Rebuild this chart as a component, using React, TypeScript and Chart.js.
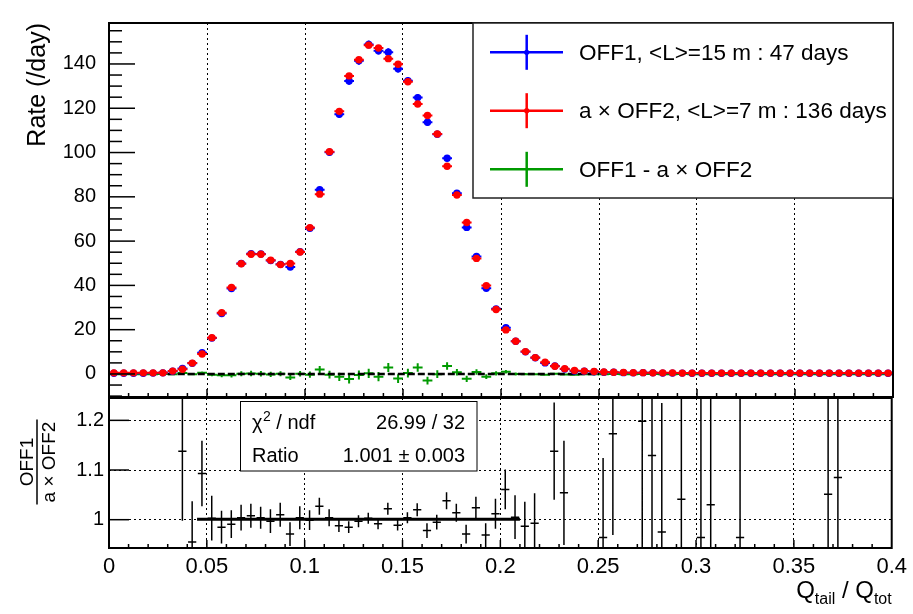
import React, { useEffect, useRef } from "react";
import { Chart, registerables } from "chart.js";
Chart.register(...registerables);

const FONT = "'Liberation Sans', Arial, Helvetica, sans-serif";
Chart.defaults.font.family = FONT;

// ---------------- data ----------------
const BIN_WIDTH = 0.005;
const N_BINS = 80;
const binCenters = Array.from({ length: N_BINS }, (_, i) => +(BIN_WIDTH * (i + 0.5)).toFixed(4));

// OFF1, <L>=15 m : 47 days  (rate per day)
const off1Rate = [
  0.3, 0.3, 0.3, 0.3, 0.4, 0.5, 1.2, 2.5, 4.8, 9.6,
  16.2, 27.3, 38.6, 49.9, 54.3, 54.2, 51.2, 49.5, 48.3, 55.2,
  65.8, 83.2, 100.1, 117.3, 132.3, 141.4, 148.8, 146.0, 145.3, 137.8,
  132.4, 124.8, 113.7, 108.3, 97.4, 81.6, 66.2, 53.1, 38.7, 29.4,
  20.9, 14.8, 10.0, 7.3, 5.0, 3.6, 2.2, 1.3, 1.2, 1.0,
  0.8, 0.8, 0.6, 0.5, 0.6, 0.5, 0.4, 0.4, 0.4, 0.3,
  0.3, 0.3, 0.3, 0.3, 0.3, 0.3, 0.3, 0.3, 0.3, 0.3,
  0.3, 0.3, 0.3, 0.3, 0.3, 0.3, 0.3, 0.3, 0.3, 0.3,
];
const off1Err = [
  0.1, 0.1, 0.1, 0.1, 0.1, 0.1, 0.15, 0.2, 0.3, 0.45,
  0.6, 0.75, 0.9, 1.0, 1.1, 1.1, 1.05, 1.0, 1.0, 1.1,
  1.2, 1.35, 1.45, 1.6, 1.7, 1.75, 1.8, 1.75, 1.75, 1.7,
  1.7, 1.65, 1.55, 1.5, 1.45, 1.3, 1.2, 1.05, 0.9, 0.8,
  0.65, 0.55, 0.45, 0.4, 0.3, 0.3, 0.2, 0.15, 0.15, 0.15,
  0.1, 0.1, 0.1, 0.1, 0.1, 0.1, 0.1, 0.1, 0.1, 0.1,
  0.1, 0.1, 0.1, 0.1, 0.1, 0.1, 0.1, 0.1, 0.1, 0.1,
  0.1, 0.1, 0.1, 0.1, 0.1, 0.1, 0.1, 0.1, 0.1, 0.1,
];

// a x OFF2, <L>=7 m : 136 days
const off2Rate = [
  0.5, 0.5, 0.5, 0.5, 0.5, 0.5, 1.3, 2.1, 4.9, 9.0,
  16.4, 27.7, 39.1, 49.8, 54.1, 54.1, 51.4, 49.4, 49.9, 55.1,
  66.1, 81.2, 100.4, 118.6, 134.6, 141.9, 148.5, 147.2, 142.4, 139.9,
  132.0, 121.9, 116.7, 108.4, 93.8, 80.8, 68.4, 52.2, 39.9, 29.1,
  19.9, 14.8, 10.1, 7.4, 5.3, 3.5, 2.4, 1.6, 1.3, 1.1,
  0.9, 0.8, 0.7, 0.6, 0.6, 0.5, 0.5, 0.5, 0.4, 0.4,
  0.4, 0.4, 0.4, 0.4, 0.4, 0.4, 0.4, 0.4, 0.4, 0.4,
  0.4, 0.4, 0.4, 0.4, 0.4, 0.4, 0.4, 0.4, 0.4, 0.4,
];
const off2Err = [
  0.05, 0.05, 0.05, 0.05, 0.05, 0.05, 0.1, 0.12, 0.18, 0.27,
  0.36, 0.45, 0.55, 0.6, 0.65, 0.65, 0.63, 0.6, 0.6, 0.65,
  0.72, 0.8, 0.87, 0.95, 1.0, 1.05, 1.08, 1.05, 1.05, 1.02,
  1.0, 0.98, 0.95, 0.9, 0.85, 0.8, 0.72, 0.63, 0.55, 0.48,
  0.4, 0.33, 0.28, 0.24, 0.2, 0.17, 0.14, 0.1, 0.1, 0.1,
  0.06, 0.06, 0.06, 0.06, 0.06, 0.06, 0.06, 0.06, 0.06, 0.06,
  0.06, 0.06, 0.06, 0.06, 0.06, 0.06, 0.06, 0.06, 0.06, 0.06,
  0.06, 0.06, 0.06, 0.06, 0.06, 0.06, 0.06, 0.06, 0.06, 0.06,
];

// OFF1 - a x OFF2
const diffRate = [
  -0.1, -0.1, -0.1, -0.1, -0.1, 0.0, -0.1, 0.4, -0.1, 0.6,
  -0.3, -0.6, -0.6, 0.1, 0.2, 0.1, -0.2, 0.1, -1.6, 0.1,
  -0.3, 2.0, -0.3, -1.3, -2.3, -0.5, 0.3, -1.2, 2.9, -2.1,
  0.4, 2.9, -3.0, -0.1, 3.6, 0.8, -2.2, 0.9, -1.2, 0.3,
  1.0, 0.0, -0.1, -0.1, -0.3, 0.1, -0.2, -0.3, -0.1, -0.1,
  -0.1, 0.0, -0.1, -0.1, 0.0, 0.0, -0.1, -0.1, 0.0, -0.1,
  -0.1, -0.1, -0.1, -0.1, -0.1, -0.1, -0.1, -0.1, -0.1, -0.1,
  -0.1, -0.1, -0.1, -0.1, -0.1, -0.1, -0.1, -0.1, -0.1, -0.1,
];
const diffErr = [
  0.12, 0.12, 0.12, 0.12, 0.12, 0.12, 0.18, 0.25, 0.35, 0.5,
  0.7, 0.9, 1.05, 1.15, 1.25, 1.25, 1.2, 1.15, 1.15, 1.25,
  1.4, 1.55, 1.7, 1.85, 2.0, 2.05, 2.1, 2.05, 2.05, 2.0,
  2.0, 1.9, 1.8, 1.75, 1.7, 1.5, 1.4, 1.2, 1.05, 0.95,
  0.75, 0.65, 0.5, 0.45, 0.35, 0.35, 0.25, 0.2, 0.2, 0.2,
  0.12, 0.12, 0.12, 0.12, 0.12, 0.12, 0.12, 0.12, 0.12, 0.12,
  0.12, 0.12, 0.12, 0.12, 0.12, 0.12, 0.12, 0.12, 0.12, 0.12,
  0.12, 0.12, 0.12, 0.12, 0.12, 0.12, 0.12, 0.12, 0.12, 0.12,
];

// OFF1 / (a x OFF2)
const ratioVal: (number | null)[] = [
  null, null, null, null, null, null, null, 1.138, 0.955, 1.093,
  1.003, 0.985, 0.991, 1.004, 1.008, 1.004, 0.997, 1.010, 0.971, 1.004,
  0.999, 1.027, 1.004, 0.988, 0.985, 0.997, 1.003, 0.992, 1.022, 0.989,
  1.004, 1.020, 0.978, 0.995, 1.038, 1.014, 0.971, 1.024, 0.969, 1.012,
  1.061, 1.005, 0.987, 0.993, null, 1.138, 1.054, null, null, null,
  0.964, 1.173, null, null, 1.198, 1.129, 0.975, null, 1.041, null,
  0.964, 1.030, null, null, 0.964, null, null, null, null, null,
  null, null, null, 1.051, 1.085, null, null, null, null, null,
];
const ratioErr = [
  0, 0, 0, 0, 0, 0, 0, 0.14, 0.082, 0.066,
  0.045, 0.033, 0.028, 0.026, 0.024, 0.022, 0.024, 0.024, 0.024, 0.023,
  0.02, 0.017, 0.017, 0.013, 0.012, 0.012, 0.011, 0.011, 0.012, 0.011,
  0.011, 0.013, 0.015, 0.015, 0.017, 0.018, 0.019, 0.022, 0.024, 0.03,
  0.04, 0.044, 0.049, 0.06, 0, 0.098, 0.105, 0, 0, 0,
  0.16, 0.204, 0, 0, 0.5, 0.5, 0.26, 0, 0.5, 0,
  0.5, 0.5, 0, 0, 0.5, 0, 0, 0, 0, 0,
  0, 0, 0, 0.5, 0.5, 0, 0, 0, 0, 0,
];

const fitRange = [0.045, 0.21];
const fitValue = 1.001;
const zeroLineRange = [0.03, 0.25];

const xTickValues = [0, 0.05, 0.1, 0.15, 0.2, 0.25, 0.3, 0.35, 0.4];
const xTickLabels = ["0", "0.05", "0.1", "0.15", "0.2", "0.25", "0.3", "0.35", "0.4"];
const xGridValues = [0.05, 0.1, 0.15, 0.2, 0.25, 0.3, 0.35];
const rateTickValues = [0, 20, 40, 60, 80, 100, 120, 140];
const ratioTickValues = [1, 1.1, 1.2];
const ratioTickLabels = ["1", "1.1", "1.2"];

const legendLabels = [
  "OFF1, <L>=15 m : 47 days",
  "a \u00d7 OFF2, <L>=7 m : 136 days",
  "OFF1 - a \u00d7 OFF2",
];
const statsLabels = ["Ratio"];
const statsValues = ["26.99 / 32", "1.001 \u00b1 0.003"];

const BLUE = "#0000ff";
const RED = "#ff0000";
const GREEN = "#009a00";

// ---------------- helpers ----------------
type P = { x: number; y: number | null };
function barSegments(xs: number[], ys: (number | null)[], errs: number[], halfW: number): P[] {
  const out: P[] = [];
  for (let i = 0; i < xs.length; i++) {
    const y = ys[i];
    if (y === null || y === undefined) continue;
    out.push({ x: xs[i] - halfW, y }, { x: xs[i] + halfW, y }, { x: xs[i], y: null });
    out.push({ x: xs[i], y: y - errs[i] }, { x: xs[i], y: y + errs[i] }, { x: xs[i], y: null });
  }
  return out;
}
function markers(xs: number[], ys: (number | null)[]): P[] {
  return xs.map((x, i) => ({ x, y: ys[i] }));
}
function seg(ctx: CanvasRenderingContext2D, x1: number, y1: number, x2: number, y2: number) {
  ctx.beginPath();
  ctx.moveTo(x1, y1);
  ctx.lineTo(x2, y2);
  ctx.stroke();
}

const lineDs = (data: P[], color: string, width: number, order: number, extra: any = {}) => ({
  type: "scatter" as const,
  data,
  showLine: true,
  borderColor: color,
  borderWidth: width,
  pointRadius: 0,
  spanGaps: false,
  order,
  ...extra,
});
const markerDs = (data: P[], color: string, order: number) => ({
  type: "scatter" as const,
  data,
  showLine: false,
  pointRadius: 3.7,
  pointStyle: "circle",
  pointBackgroundColor: color,
  pointBorderWidth: 0,
  order,
});

// ---------------- plugins ----------------
const topDecor = {
  id: "topDecor",
  afterDatasetsDraw(chart: any) {
    const { ctx, chartArea: a } = chart;
    const xs = chart.scales.x;
    const ys = chart.scales.y;
    ctx.save();
    ctx.strokeStyle = "#000";
    ctx.lineWidth = 1.5;
    for (let k = -2; k <= 31; k++) {
      const v = k * 5;
      const py = ys.getPixelForValue(v);
      if (py < a.top || py > a.bottom) continue;
      seg(ctx, a.left, py, a.left + (v % 20 === 0 ? 26 : 13), py);
    }
    for (let k = 1; k < 40; k++) {
      const px = xs.getPixelForValue(k * 0.01);
      seg(ctx, px, a.bottom, px, a.bottom - (k % 5 === 0 ? 8 : 4));
    }
    ctx.lineWidth = 2;
    ctx.strokeRect(a.left, a.top, a.right - a.left, a.bottom - a.top);

    // legend
    const L = { x1: 473, y1: a.top, x2: a.right, y2: 198 };
    ctx.fillStyle = "#fff";
    ctx.fillRect(L.x1, L.y1, L.x2 - L.x1, L.y2 - L.y1);
    ctx.lineWidth = 1.5;
    ctx.strokeStyle = "#222";
    ctx.strokeRect(L.x1, L.y1, L.x2 - L.x1, L.y2 - L.y1);
    const colors = [BLUE, RED, GREEN];
    const rows = [52.3, 110.7, 169.3];
    ctx.font = `22.5px ${FONT}`;
    ctx.textBaseline = "middle";
    ctx.textAlign = "left";
    rows.forEach((cy, i) => {
      ctx.strokeStyle = colors[i];
      ctx.lineWidth = 2.5;
      seg(ctx, 490, cy, 563, cy);
      seg(ctx, 526.7, cy - 17.5, 526.7, cy + 17.5);
      if (i < 2) {
        ctx.fillStyle = colors[i];
        ctx.beginPath();
        ctx.arc(526.7, cy, 2.6, 0, Math.PI * 2);
        ctx.fill();
      }
      ctx.fillStyle = "#000";
      ctx.fillText(legendLabels[i], 579, cy + 1);
    });
    ctx.restore();
  },
};

const botDecor = {
  id: "botDecor",
  afterDatasetsDraw(chart: any) {
    const { ctx, chartArea: a } = chart;
    const xs = chart.scales.x;
    const ys = chart.scales.y;
    ctx.save();
    ctx.strokeStyle = "#000";
    ctx.lineWidth = 1.5;
    for (let k = 1; k < 40; k++) {
      const px = xs.getPixelForValue(k * 0.01);
      seg(ctx, px, a.bottom, px, a.bottom - (k % 5 === 0 ? 8 : 4));
    }
    ratioTickValues.forEach((v) => {
      const py = ys.getPixelForValue(v);
      seg(ctx, a.left, py, a.left + 20, py);
    });
    ctx.lineWidth = 2;
    ctx.strokeRect(a.left, a.top, a.right - a.left, a.bottom - a.top);

    // stats box
    const B = { x1: 240.5, y1: 401.5, x2: 477, y2: 471 };
    ctx.fillStyle = "#fff";
    ctx.fillRect(B.x1, B.y1, B.x2 - B.x1, B.y2 - B.y1);
    ctx.lineWidth = 1;
    ctx.strokeRect(B.x1, B.y1, B.x2 - B.x1, B.y2 - B.y1);
    ctx.fillStyle = "#000";
    ctx.textBaseline = "alphabetic";
    ctx.textAlign = "left";
    let cx = 252;
    const b1 = 428.5;
    ctx.font = `20px ${FONT}`;
    ctx.fillText("\u03c7", cx, b1);
    cx += ctx.measureText("\u03c7").width + 0.5;
    ctx.font = `14px ${FONT}`;
    ctx.fillText("2", cx, b1 - 8);
    cx += ctx.measureText("2").width;
    ctx.font = `20px ${FONT}`;
    ctx.fillText(" / ndf", cx, b1);
    ctx.fillText(statsLabels[0], 252, 461.5);
    ctx.textAlign = "right";
    ctx.fillText(statsValues[0], 465, b1);
    ctx.fillText(statsValues[1], 465, 461.5);

    // y title fraction
    ctx.save();
    ctx.translate(37, 462);
    ctx.rotate(-Math.PI / 2);
    ctx.font = `19px ${FONT}`;
    ctx.textAlign = "center";
    ctx.fillText("OFF1", 0, -4);
    ctx.fillText("a \u00d7 OFF2", 0, 18);
    const w = ctx.measureText("a \u00d7 OFF2").width + 4;
    ctx.lineWidth = 1.5;
    seg(ctx, -w / 2, 0, w / 2, 0);
    ctx.restore();

    // x title Q_tail / Q_tot
    const parts = [
      { t: "Q", sub: false },
      { t: "tail", sub: true },
      { t: " / Q", sub: false },
      { t: "tot", sub: true },
    ];
    const big = `24px ${FONT}`;
    const small = `16px ${FONT}`;
    let total = 0;
    parts.forEach((p) => {
      ctx.font = p.sub ? small : big;
      total += ctx.measureText(p.t).width;
    });
    ctx.textAlign = "left";
    let px = a.right - total;
    const base = 598;
    parts.forEach((p) => {
      ctx.font = p.sub ? small : big;
      ctx.fillText(p.t, px, p.sub ? base + 6 : base);
      px += ctx.measureText(p.t).width;
    });
    ctx.restore();
  },
};

// ---------------- component ----------------
export default function App() {
  const topRef = useRef<HTMLCanvasElement>(null);
  const botRef = useRef<HTMLCanvasElement>(null);

  useEffect(() => {
    const gridDash = [2, 3];
    const topChart = new Chart(topRef.current as HTMLCanvasElement, {
      type: "scatter",
      data: {
        datasets: [
          markerDs(markers(binCenters, off2Rate), RED, 0),
          lineDs(barSegments(binCenters, off2Rate, off2Err, BIN_WIDTH / 2), RED, 2, 1),
          markerDs(markers(binCenters, off1Rate), BLUE, 2),
          lineDs(barSegments(binCenters, off1Rate, off1Err, BIN_WIDTH / 2), BLUE, 2, 3),
          lineDs(
            [
              { x: zeroLineRange[0], y: 0 },
              { x: zeroLineRange[1], y: 0 },
            ],
            "#000",
            2.5,
            4,
            { borderDash: [7, 3] }
          ),
          lineDs(barSegments(binCenters, diffRate, diffErr, BIN_WIDTH / 2), GREEN, 2, 5),
        ] as any,
      },
      options: {
        responsive: false,
        animation: false,
        events: [],
        layout: { padding: { left: 0, top: 23, right: 20, bottom: 614 - 397 } },
        plugins: { legend: { display: false }, tooltip: { enabled: false } },
        scales: {
          x: {
            type: "linear",
            min: 0,
            max: 0.4,
            afterBuildTicks: (s: any) => {
              s.ticks = xGridValues.map((v) => ({ value: v }));
            },
            afterFit: (s: any) => {
              s.height = 0;
            },
            ticks: { display: false },
            grid: { display: true, color: "#000", lineWidth: 1, drawTicks: false },
            border: { display: false, dash: gridDash },
          },
          y: {
            type: "linear",
            min: -10.4,
            max: 158.5,
            afterBuildTicks: (s: any) => {
              s.ticks = rateTickValues.map((v) => ({ value: v }));
            },
            afterFit: (s: any) => {
              s.width = 109;
            },
            ticks: {
              color: "#000",
              font: { size: 20, family: FONT },
              padding: 5,
              autoSkip: false,
              callback: (v: any) => String(v),
            },
            grid: { display: false },
            border: { display: false },
            title: {
              display: true,
              text: "Rate (/day)",
              align: "end",
              color: "#000",
              font: { size: 25, family: FONT },
              padding: { top: 23, bottom: 0 },
            },
          },
        },
      } as any,
      plugins: [topDecor],
    });

    const botChart = new Chart(botRef.current as HTMLCanvasElement, {
      type: "scatter",
      data: {
        datasets: [
          lineDs(
            [
              { x: fitRange[0], y: fitValue },
              { x: fitRange[1], y: fitValue },
            ],
            "#000",
            3,
            0
          ),
          lineDs(barSegments(binCenters, ratioVal, ratioErr, 0.0021), "#000", 1.5, 1),
        ] as any,
      },
      options: {
        responsive: false,
        animation: false,
        events: [],
        layout: { padding: { left: 0, top: 398, right: 20, bottom: 614 - 548 - 40 } },
        plugins: { legend: { display: false }, tooltip: { enabled: false } },
        scales: {
          x: {
            type: "linear",
            min: 0,
            max: 0.4,
            afterBuildTicks: (s: any) => {
              s.ticks = xTickValues.map((v) => ({ value: v }));
            },
            afterFit: (s: any) => {
              s.height = 40;
            },
            ticks: {
              color: "#000",
              font: { size: 22, family: FONT },
              padding: 6,
              maxRotation: 0,
              autoSkip: false,
              callback: (_v: any, i: number) => xTickLabels[i],
            },
            grid: { display: true, color: "#000", lineWidth: 1, drawTicks: false },
            border: { display: false, dash: gridDash },
          },
          y: {
            type: "linear",
            min: 0.943,
            max: 1.245,
            afterBuildTicks: (s: any) => {
              s.ticks = ratioTickValues.map((v) => ({ value: v }));
            },
            afterFit: (s: any) => {
              s.width = 109;
            },
            ticks: {
              color: "#000",
              font: { size: 20, family: FONT },
              padding: 5,
              autoSkip: false,
              callback: (_v: any, i: number) => ratioTickLabels[i],
            },
            grid: { display: true, color: "#000", lineWidth: 1, drawTicks: false },
            border: { display: false, dash: gridDash },
          },
        },
      } as any,
      plugins: [botDecor],
    });

    return () => {
      topChart.destroy();
      botChart.destroy();
    };
  }, []);

  return (
    <div style={{ position: "absolute", left: 0, top: 0, width: 913, height: 614, background: "#fff" }}>
      <canvas ref={topRef} width={913} height={614} style={{ position: "absolute", left: 0, top: 0 }} />
      <canvas ref={botRef} width={913} height={614} style={{ position: "absolute", left: 0, top: 0 }} />
    </div>
  );
}
